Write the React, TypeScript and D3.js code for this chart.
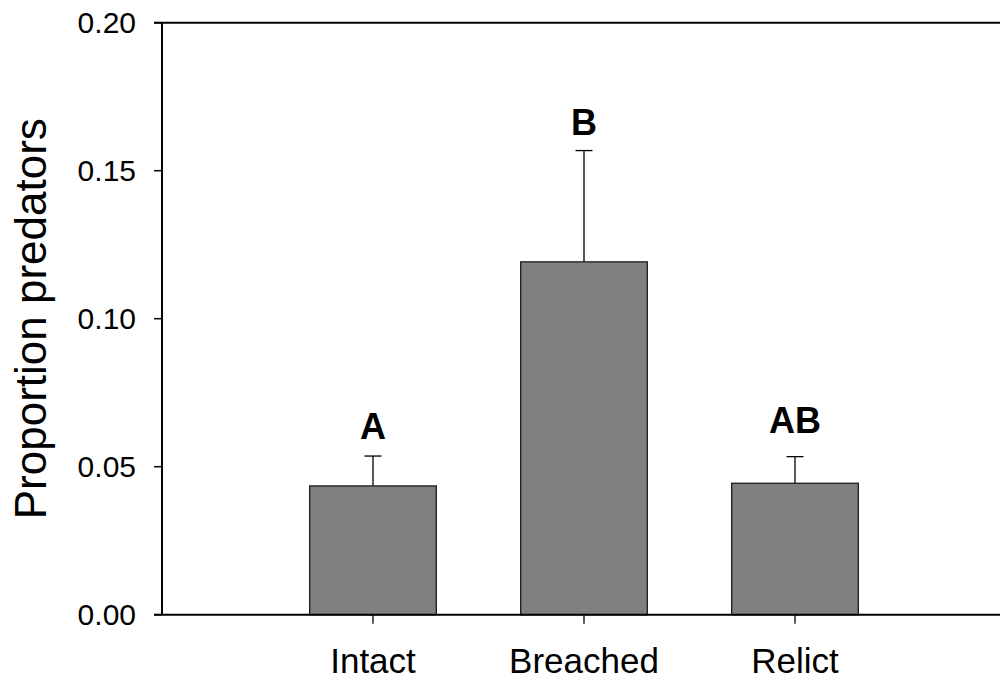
import React from "react";
import * as d3 from "d3";

const categories = ["Intact", "Breached", "Relict"];
const means = [0.0435, 0.1192, 0.0444];
const upperErrors = [0.0536, 0.1568, 0.0534];
const letters = ["A", "B", "AB"];
const letterValues = [0.0594, 0.162, 0.0614];
const yTicks = [0.0, 0.05, 0.1, 0.15, 0.2];
const yLabel = "Proportion predators";

export default function App() {
  const W = 1000;
  const H = 686;
  const left = 162;
  const top = 22.7;
  const bottom = 614.7;
  const y = d3.scaleLinear().domain([0, 0.2]).range([bottom, top]);
  const x = d3.scalePoint<string>().domain(categories).range([left, 1006]).padding(1);
  const barW = x.step() * 0.6;
  const capW = 17;
  const font = "Arial, 'Liberation Sans', Helvetica, sans-serif";
  const fmt = d3.format(".2f");

  return (
    <svg width={W} height={H} style={{ position: "absolute", left: 0, top: 0, background: "#fff" }} fontFamily={font}>
      {categories.map((c, i) => (
        <g key={c}>
          <line x1={x(c)!} x2={x(c)!} y1={y(means[i])} y2={y(upperErrors[i])} stroke="#000" strokeWidth={1.3} />
          <line x1={x(c)! - capW / 2} x2={x(c)! + capW / 2} y1={y(upperErrors[i])} y2={y(upperErrors[i])} stroke="#000" strokeWidth={1.3} />
          <rect x={x(c)! - barW / 2} y={y(means[i])} width={barW} height={y(0) - y(means[i])} fill="#808080" stroke="#1a1a1a" strokeWidth={1.3} />
          <text x={x(c)!} y={y(letterValues[i])} textAnchor="middle" fontWeight="bold" fontSize={36} fill="#000">{letters[i]}</text>
          <line x1={x(c)!} x2={x(c)!} y1={bottom} y2={bottom + 9} stroke="#000" strokeWidth={1.3} />
          <text x={x(c)!} y={673} textAnchor="middle" fontSize={35} fill="#000">{c}</text>
        </g>
      ))}
      <line x1={left} x2={left} y1={top} y2={bottom} stroke="#000" strokeWidth={2} />
      <line x1={left - 8} x2={W} y1={bottom} y2={bottom} stroke="#000" strokeWidth={2} />
      <line x1={left - 8} x2={W} y1={top} y2={top} stroke="#000" strokeWidth={2} />
      {yTicks.map((t) => (
        <g key={t}>
          <line x1={left - 8} x2={left} y1={y(t)} y2={y(t)} stroke="#000" strokeWidth={1.5} />
          <text x={136} y={y(t) + 10.5} textAnchor="end" fontSize={30} fill="#000">{fmt(t)}</text>
        </g>
      ))}
      <text transform={`translate(46, ${(top + bottom) / 2}) rotate(-90)`} textAnchor="middle" fontSize={44} fill="#000">{yLabel}</text>
    </svg>
  );
}
